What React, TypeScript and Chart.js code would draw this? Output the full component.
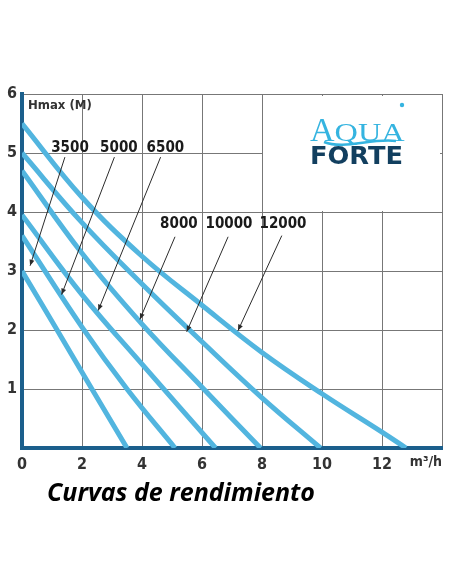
import { useEffect, useRef } from 'react'
import { Chart, registerables } from 'chart.js'

Chart.register(...registerables)

// pump models, one curve per model
const models = ['3500', '5000', '6500', '8000', '10000', '12000']

// flow (m3/h) and head (m)
const flow3500 = [0, 1.17, 2.33, 3.5]
const head3500 = [3.0, 2.0, 1.0, 0]
const flow5000 = [0, 2, 3.5, 5.1]
const head5000 = [3.6, 2.05, 1.0, 0]
const flow6500 = [0, 2, 4, 6.45]
const head6500 = [3.95, 2.6, 1.42, 0]
const flow8000 = [0, 2, 4, 6, 7.95]
const head8000 = [4.7, 3.3, 2.1, 1.03, 0]
const flow10000 = [0, 2, 4, 6, 8, 9.95]
const head10000 = [5.0, 3.82, 2.78, 1.8, 0.85, 0]
const flow12000 = [0, 2, 4, 6, 8, 10, 12, 12.8]
const head12000 = [5.5, 4.25, 3.25, 2.42, 1.62, 0.92, 0.27, 0]

const flows = [flow3500, flow5000, flow6500, flow8000, flow10000, flow12000]
const heads = [head3500, head5000, head6500, head8000, head10000, head12000]

// callouts: label spot, arrow start, arrow tip (data units)
const labelX = [1.6, 3.23, 4.78, 5.23, 6.9, 8.7]
const labelY = [5.09, 5.09, 5.09, 3.79, 3.79, 3.79]
const arrowFromX = [1.43, 3.08, 4.62, 5.1, 6.87, 8.66]
const arrowFromY = [4.93, 4.93, 4.93, 3.58, 3.58, 3.6]
const arrowToX = [0.27, 1.32, 2.54, 3.93, 5.49, 7.2]
const arrowToY = [3.09, 2.6, 2.33, 2.18, 1.97, 1.99]

const narrow = "'Liberation Sans Narrow', 'DejaVu Sans Condensed', 'Open Sans', sans-serif"
const curveBlue = '#52b5df'
const axisBlue = '#1b5f8c'

const callouts = {
  id: 'callouts',
  beforeDatasetsDraw(chart: any) {
    const { ctx, scales } = chart
    const x = scales.x
    const y = scales.y
    const l = x.getPixelForValue(8) + 1
    const r = x.getPixelForValue(14) - 2
    const t = y.getPixelForValue(6) + 2
    const b = y.getPixelForValue(4) - 1
    ctx.save()
    ctx.fillStyle = '#fff'
    ctx.fillRect(l, t, r - l, b - t)

    // logo
    const top = y.getPixelForValue(6)
    const lx = l + 47
    ctx.textBaseline = 'alphabetic'
    ctx.textAlign = 'left'
    ctx.fillStyle = '#35b4e0'
    ctx.font = "34px 'Liberation Serif', serif"
    ctx.fillText('A', lx, top + 47)
    const aw = ctx.measureText('A').width
    ctx.font = "25px 'Liberation Serif', serif"
    const qw = ctx.measureText('QUA').width
    ctx.save()
    ctx.translate(lx + aw, top + 47)
    ctx.scale(70 / qw, 1)
    ctx.fillText('QUA', 0, 0)
    ctx.restore()
    ctx.beginPath()
    ctx.arc(lx + 92, top + 11, 2.2, 0, Math.PI * 2)
    ctx.fill()

    ctx.fillStyle = '#123f5f'
    ctx.font = "bold 25px 'DejaVu Sans', sans-serif"
    const fw = ctx.measureText('FORTE').width
    ctx.save()
    ctx.translate(lx, top + 70)
    ctx.scale(93 / fw, 1)
    ctx.fillText('FORTE', 0, 0)
    ctx.restore()

    ctx.strokeStyle = '#35b4e0'
    ctx.lineWidth = 2.5
    ctx.beginPath()
    ctx.moveTo(lx + 14, top + 48)
    ctx.bezierCurveTo(lx + 35, top + 56, lx + 60, top + 44, lx + 86, top + 47)
    ctx.stroke()
    ctx.restore()
  },
  afterDatasetsDraw(chart: any) {
    const { ctx, scales } = chart
    const x = scales.x
    const y = scales.y
    ctx.save()
    ctx.strokeStyle = '#2b2b2b'
    ctx.fillStyle = '#2b2b2b'
    ctx.lineWidth = 1
    models.forEach((_, i) => {
      const x0 = x.getPixelForValue(arrowFromX[i])
      const y0 = y.getPixelForValue(arrowFromY[i])
      const x1 = x.getPixelForValue(arrowToX[i])
      const y1 = y.getPixelForValue(arrowToY[i])
      ctx.beginPath()
      ctx.moveTo(x0, y0)
      ctx.lineTo(x1, y1)
      ctx.stroke()
      const a = Math.atan2(y1 - y0, x1 - x0)
      ctx.beginPath()
      ctx.moveTo(x1, y1)
      ctx.lineTo(x1 - 6 * Math.cos(a) + 2.5 * Math.sin(a), y1 - 6 * Math.sin(a) - 2.5 * Math.cos(a))
      ctx.lineTo(x1 - 6 * Math.cos(a) - 2.5 * Math.sin(a), y1 - 6 * Math.sin(a) + 2.5 * Math.cos(a))
      ctx.closePath()
      ctx.fill()
    })

    ctx.fillStyle = '#1a1a1a'
    ctx.textAlign = 'center'
    ctx.textBaseline = 'middle'
    ctx.font = `bold 15px ${narrow}`
    models.forEach((m, i) => {
      ctx.fillText(m, x.getPixelForValue(labelX[i]), y.getPixelForValue(labelY[i]))
    })

    ctx.fillStyle = '#333'
    ctx.textAlign = 'left'
    ctx.font = `bold 13px ${narrow}`
    ctx.fillText('Hmax (M)', x.getPixelForValue(0.2), y.getPixelForValue(5.81))

    ctx.textAlign = 'right'
    ctx.textBaseline = 'top'
    ctx.font = `bold 14px ${narrow}`
    ctx.fillText('m³/h', x.getPixelForValue(14), x.top + 7)
    ctx.restore()
  },
}

export default function App() {
  const canvasRef = useRef<HTMLCanvasElement | null>(null)
  const chartRef = useRef<Chart | null>(null)

  useEffect(() => {
    document.body.style.margin = '0'
    if (!canvasRef.current) return
    if (chartRef.current) chartRef.current.destroy()

    const tickFont = { family: narrow, size: 16, weight: 'bold' as const }
    const grid = { color: '#777', lineWidth: 1, drawTicks: false }

    chartRef.current = new Chart(canvasRef.current, {
      type: 'scatter',
      data: {
        datasets: models.map((m, i) => ({
          label: m,
          data: flows[i].map((f, j) => ({ x: f, y: heads[i][j] })),
          showLine: true,
          borderColor: curveBlue,
          borderWidth: 5,
          pointRadius: 0,
          tension: 0.4,
          fill: false,
        })),
      },
      options: {
        animation: false,
        responsive: true,
        maintainAspectRatio: false,
        layout: { padding: { top: 94, right: 10, left: 0, bottom: 0 } },
        plugins: {
          legend: { display: false },
          tooltip: { enabled: false },
        },
        scales: {
          x: {
            type: 'linear',
            min: 0,
            max: 14,
            ticks: {
              stepSize: 2,
              autoSkip: false,
              maxRotation: 0,
              padding: 7,
              color: '#333',
              font: tickFont,
              callback: (v: any) => (v === 14 ? '' : String(v)),
            },
            grid,
            border: { color: axisBlue, width: 4 },
            afterFit: (s: any) => {
              s.height = 32
            },
          },
          y: {
            min: 0,
            max: 6,
            ticks: {
              stepSize: 1,
              padding: 5,
              color: '#333',
              font: tickFont,
              callback: (v: any) => (v === 0 ? '' : String(v)),
            },
            grid,
            border: { color: axisBlue, width: 4 },
            afterFit: (s: any) => {
              s.width = 22
            },
          },
        },
      },
      plugins: [callouts],
    })
    return () => chartRef.current?.destroy()
  }, [])

  return (
    <div style={{ position: 'relative', width: 452, height: 584, background: '#fff' }}>
      <div style={{ position: 'absolute', left: 0, top: 0, width: 452, height: 480 }}>
        <canvas ref={canvasRef} />
      </div>
      <div
        style={{
          position: 'absolute',
          left: 47,
          top: 477,
          fontFamily: "'Open Sans', sans-serif",
          fontStyle: 'italic',
          fontWeight: 700,
          fontSize: 25,
          lineHeight: '28px',
          color: '#000',
        }}
      >
        Curvas de rendimiento
      </div>
    </div>
  )
}
